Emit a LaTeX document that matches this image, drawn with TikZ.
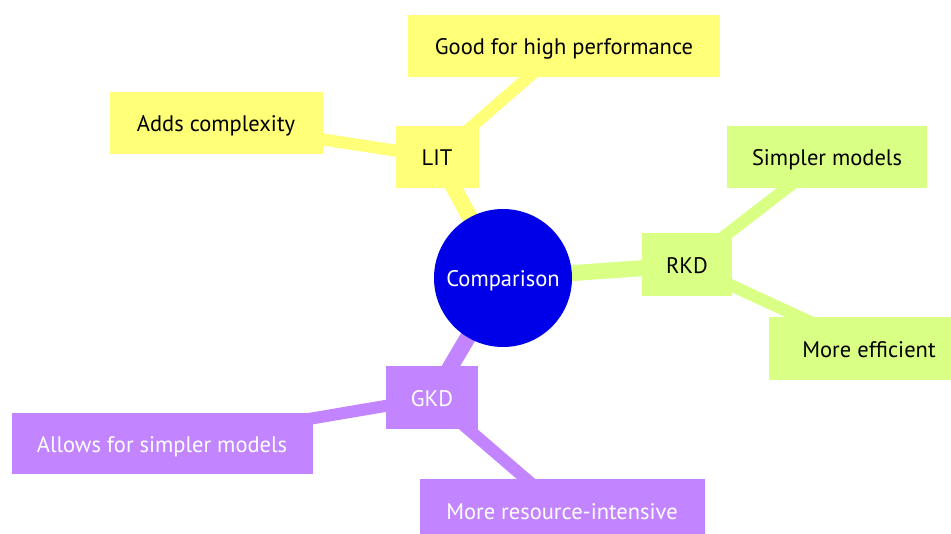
\documentclass[tikz,border=0pt]{standalone}
\usepackage{fontspec}
\setmainfont{PT Sans}
\usetikzlibrary{backgrounds}
\definecolor{rootc}{HTML}{0000E8}
\definecolor{yel}{HTML}{FFFF78}
\definecolor{grn}{HTML}{D9FF85}
\definecolor{pur}{HTML}{C285FF}
\tikzset{
  lbl/.style={font=\fontsize{22.5}{26}\selectfont, text height=18pt, text depth=0pt},
  box/.style={rectangle, inner sep=0pt, lbl},
  ybox/.style={box, fill=yel, text=black},
  gbox/.style={box, fill=grn, text=black},
  pbox/.style={box, fill=pur, text=white},
  rootnode/.style={circle, fill=rootc, text=white, minimum size=138pt, inner sep=0pt, lbl},
  yedge/.style={draw=yel, line width=#1},
  gedge/.style={draw=grn, line width=#1},
  pedge/.style={draw=pur, line width=#1},
}
\begin{document}
\begin{tikzpicture}[x=1pt,y=-1pt]
\useasboundingbox (0,0) rectangle (951,534);
\node[rootnode] (root) at (503,278) {Comparison};
\node[ybox, minimum width=312pt, minimum height=62pt] (good) at (564,46) {Good for high performance};
\node[ybox, minimum width=213pt, minimum height=62pt] (adds) at (216,123) {Adds complexity};
\node[ybox, minimum width=83pt, minimum height=62pt] (lit) at (437,157) {LIT};
\node[gbox, minimum width=90pt, minimum height=63pt] (rkd) at (687,265) {RKD};
\node[gbox, minimum width=200pt, minimum height=62pt] (simp) at (827,157) {Simpler models};
\node[gbox, minimum width=200pt, minimum height=63pt] (eff) at (869,349) {More efficient};
\node[pbox, minimum width=92pt, minimum height=63pt] (gkd) at (432,398) {GKD};
\node[pbox, minimum width=301pt, minimum height=61pt] (allow) at (162,444) {Allows for simpler models};
\node[pbox, minimum width=285pt, minimum height=62pt] (res) at (562,510) {More resource-intensive};
\begin{scope}[on background layer]
\draw[yedge=16pt] (root.center) -- (lit.center);
\draw[yedge=12pt] (lit.center) -- (good.center);
\draw[yedge=12pt] (lit.center) -- (adds.center);
\draw[gedge=16pt] (root.center) -- (rkd.center);
\draw[gedge=12pt] (rkd.center) -- (simp.center);
\draw[gedge=12pt] (rkd.center) -- (eff.center);
\draw[pedge=16pt] (root.center) -- (gkd.center);
\draw[pedge=12pt] (gkd.center) -- (allow.center);
\draw[pedge=12pt] (gkd.center) -- (res.center);
\end{scope}
\end{tikzpicture}
\end{document}
